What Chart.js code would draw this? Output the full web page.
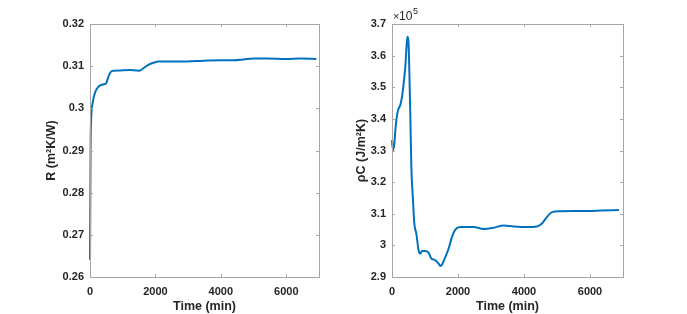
<!DOCTYPE html>
<html>
<head>
<meta charset="utf-8">
<script src="https://cdn.jsdelivr.net/npm/chart.js@4"></script>
<style>
  body { margin: 0; background: #fff; }
  canvas { position: absolute; top: 0; }
  #grafR { left: 0; }
  #grafC { left: 340px; }
</style>
</head>
<body>
<canvas id="grafR" width="340" height="314"></canvas>
<canvas id="grafC" width="347" height="314"></canvas>
<script>
// left panel: R over time
const tiempoR = [0, 10, 15, 20, 30, 50, 80, 120, 185, 255, 335, 430, 490, 530, 580, 645, 715, 920, 1225, 1430, 1510, 1630, 1785, 1940, 2090, 2550, 2960, 3470, 3980, 4390, 4690, 5000, 5410, 6020, 6430, 6920]
const valorR = [0.2641, 0.2782, 0.2861, 0.2925, 0.2964, 0.2996, 0.3012, 0.3028, 0.3043, 0.3051, 0.3055, 0.3057, 0.3059, 0.3067, 0.3079, 0.3087, 0.3089, 0.3090, 0.3091, 0.3090, 0.3089, 0.3095, 0.3103, 0.3108, 0.3111, 0.3111, 0.3111, 0.3113, 0.3114, 0.3114, 0.3116, 0.3118, 0.3118, 0.3117, 0.3118, 0.3117]

// right panel: rho*C over time (units of 1e5)
const tiempoC = [0, 30, 71, 101, 152, 202, 253, 303, 333, 374, 404, 434, 465, 495, 515, 556, 586, 636, 677, 737, 808, 859, 909, 1010, 1111, 1182, 1313, 1414, 1465, 1515, 1616, 1717, 1818, 1919, 2071, 2475, 2778, 3081, 3384, 3687, 4091, 4394, 4545, 4697, 4848, 5101, 5505, 5909, 6313, 6879]
const valorC = [3.333, 3.301, 3.322, 3.364, 3.412, 3.433, 3.444, 3.470, 3.493, 3.533, 3.565, 3.618, 3.660, 3.649, 3.597, 3.407, 3.248, 3.143, 3.069, 3.037, 2.984, 2.974, 2.982, 2.982, 2.976, 2.960, 2.953, 2.942, 2.935, 2.939, 2.963, 2.990, 3.027, 3.050, 3.058, 3.058, 3.052, 3.056, 3.063, 3.060, 3.058, 3.060, 3.069, 3.090, 3.105, 3.108, 3.109, 3.109, 3.110, 3.112]

const ticksX = [0, 2000, 4000, 6000]
const ticksR = [0.26, 0.27, 0.28, 0.29, 0.30, 0.31, 0.32]
const ticksC = [2.9, 3.0, 3.1, 3.2, 3.3, 3.4, 3.5, 3.6, 3.7]

const fuente = "'Liberation Sans', Arial, sans-serif"
const azul = '#0072BD'

// box + inward ticks like matlab
const cajaPlugin = {
  id: 'caja',
  afterDraw(chart) {
    const ctx = chart.ctx
    const a = chart.chartArea
    const sx = chart.scales.x
    const sy = chart.scales.y
    ctx.save()
    ctx.strokeStyle = '#a6a6a6'
    ctx.lineWidth = 1
    ctx.strokeRect(Math.round(a.left) + 0.5, Math.round(a.top) + 0.5, Math.round(a.right - a.left), Math.round(a.bottom - a.top))
    ctx.beginPath()
    sx.ticks.forEach(t => {
      const px = Math.round(sx.getPixelForValue(t.value)) + 0.5
      ctx.moveTo(px, a.bottom); ctx.lineTo(px, a.bottom - 3)
      ctx.moveTo(px, a.top); ctx.lineTo(px, a.top + 3)
    })
    sy.ticks.forEach(t => {
      const py = Math.round(sy.getPixelForValue(t.value)) + 0.5
      ctx.moveTo(a.left, py); ctx.lineTo(a.left + 3, py)
      ctx.moveTo(a.right, py); ctx.lineTo(a.right - 3, py)
    })
    ctx.stroke()
    if (chart.options.plugins.caja && chart.options.plugins.caja.exponente) {
      ctx.fillStyle = '#262626'
      ctx.textBaseline = 'alphabetic'
      ctx.font = '11px ' + fuente
      ctx.fillText('×', a.left + 1, 20)
      ctx.font = '12px ' + fuente
      ctx.fillText('10', a.left + 7, 20)
      ctx.font = '9px ' + fuente
      ctx.fillText('5', a.left + 21, 14)
    }
    ctx.restore()
  }
}

function armarGrafica(id, tiempos, valores, ticksY, yMin, yMax, tituloY, pad, anchoY, exponente) {
  const puntos = tiempos.map((t, i) => ({ x: t, y: valores[i] }))
  const config = {
    type: 'line',
    data: {
      datasets: [{
        data: puntos,
        borderColor: azul,
        borderWidth: 2,
        pointRadius: 0,
        fill: false,
        clip: 3,
        cubicInterpolationMode: 'monotone'
      }]
    },
    options: {
      responsive: false,
      animation: false,
      layout: { padding: pad },
      plugins: { legend: { display: false }, tooltip: { enabled: false }, caja: { exponente: exponente } },
      scales: {
        x: {
          type: 'linear',
          min: 0,
          max: 7000,
          afterBuildTicks: s => { s.ticks = ticksX.map(v => ({ value: v })) },
          afterFit: s => { s.height = 37 },
          grid: { display: false, drawTicks: false },
          border: { display: false },
          ticks: { padding: 8, color: '#262626', font: { family: fuente, size: 11, weight: 'bold' }, callback: v => String(v) },
          title: { display: true, text: 'Time (min)', color: '#262626', padding: 0, font: { family: fuente, size: 12.5, weight: 'bold' } }
        },
        y: {
          type: 'linear',
          min: yMin,
          max: yMax,
          afterBuildTicks: s => { s.ticks = ticksY.map(v => ({ value: v })) },
          afterFit: s => { s.width = anchoY },
          grid: { display: false, drawTicks: false },
          border: { display: false },
          ticks: { padding: 6, color: '#262626', font: { family: fuente, size: 11, weight: 'bold' }, callback: v => String(Number(v.toFixed(2))) },
          title: { display: true, text: tituloY, color: '#262626', padding: 0, font: { family: fuente, size: 12.5, weight: 'bold' } }
        }
      }
    },
    plugins: [cajaPlugin]
  }
  return new Chart(document.getElementById(id), config)
}

armarGrafica('grafR', tiempoR, valorR, ticksR, 0.26, 0.32, 'R (m²K/W)', { left: 44, right: 21, top: 24, bottom: 0 }, 46, false)
armarGrafica('grafC', tiempoC, valorC, ticksC, 2.9, 3.7, 'ρC (J/m²K)', { left: 14, right: 64, top: 24, bottom: 0 }, 38, true)
</script>
</body>
</html>
